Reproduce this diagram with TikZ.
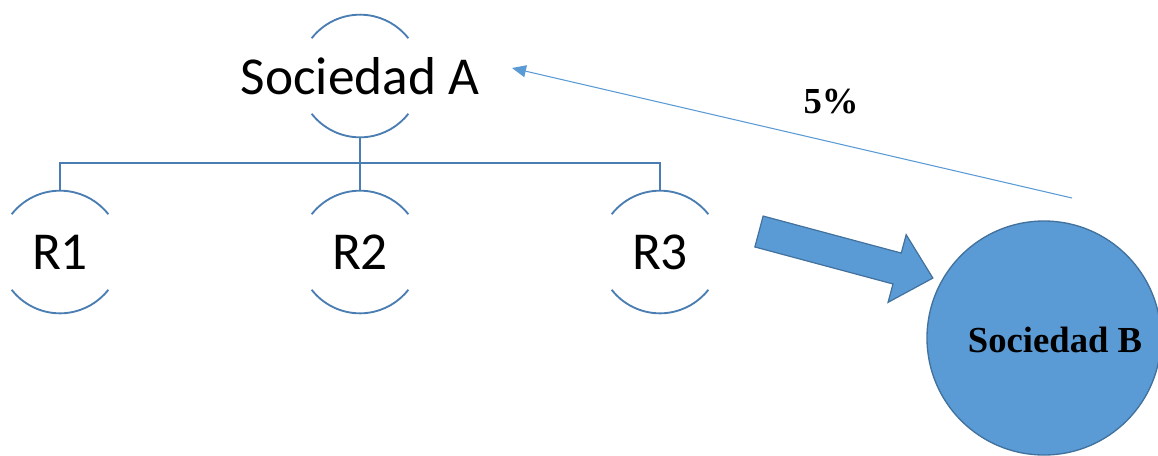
\documentclass[tikz,border=0pt]{standalone}
\usepackage{fontspec}
\setmainfont{Liberation Serif}
\newfontfamily\calibri{Carlito}
\usetikzlibrary{arrows.meta,calc}

\definecolor{azul}{HTML}{5B9BD5}
\definecolor{azulosc}{HTML}{41719C}
\definecolor{azulrama}{HTML}{4A7EB2}

\newcommand{\radio}{46pt}

\tikzset{
  socio/.style={font=\calibri\fontsize{40}{48}\selectfont, inner sep=0pt},
  arco/.style={draw=azulrama, line width=1.4pt},
  bloque/.style={fill=azul, draw=azulosc, line width=0.9pt, line join=miter},
  circulo/.style={circle, fill=azul, draw=azulosc, line width=1pt, minimum size=175.5pt, inner sep=0pt},
  negrita/.style={font=\bfseries\fontsize{27.5}{33}\selectfont, inner sep=0pt},
  enlace/.style={draw=azul, line width=0.8pt, -{Triangle[length=10.5pt,width=9pt]}}
}

\begin{document}
\begin{tikzpicture}[x=0.75pt,y=0.75pt]
\useasboundingbox (0,0) rectangle (1158,-455);

% sociedad A y sus tres ramas
\node (sa) at (360,-76) [socio] {Sociedad A};
\node (r1) at (60,-252) [socio] {R1};
\node (r2) at (360,-252) [socio] {R2};
\node (r3) at (660,-252) [socio] {R3};

\foreach \n in {sa,r1,r2,r3} {
  \draw[arco] ([shift={(142:\radio)}]\n.center) arc[start angle=142,end angle=38,radius=\radio];
  \draw[arco] ([shift={(218:\radio)}]\n.center) arc[start angle=218,end angle=322,radius=\radio];
}

\coordinate (bus) at (360,-163);
\draw[arco] ([yshift=-\radio]sa.center) -- (bus);
\foreach \n in {r1,r2,r3}
  \draw[arco] (bus) -| ([yshift=\radio]\n.center);

% flecha gruesa hacia B
\coordinate (cola) at (759,-231.5);
\draw[bloque, shift={(cola)}, rotate=-15]
  (0,16) -- (143,16) -- (143,35) -- (180,0) -- (143,-35) -- (143,-16) -- (0,-16) -- cycle;

% sociedad B
\node (sb) at (1044,-338) [circulo] {};
\node (tsb) at (1055,-340) [negrita] {Sociedad B};

% participacion
\coordinate (desde) at (1072,-198);
\coordinate (hasta) at (512,-68);
\draw[enlace] (desde) -- (hasta);
\node (pct) at (831,-102) [negrita] {5\%};

\end{tikzpicture}
\end{document}
